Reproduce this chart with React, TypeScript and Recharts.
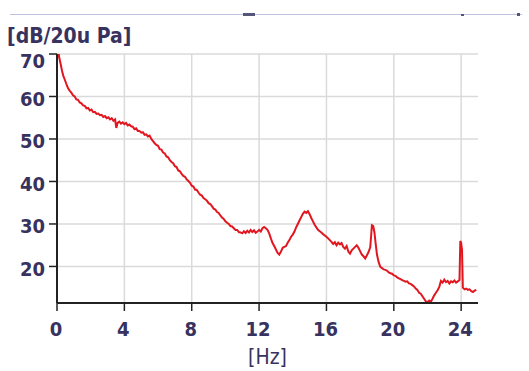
import React from 'react';
import { LineChart, Line, XAxis, YAxis, CartesianGrid } from 'recharts';

// Spectrum: frequency (Hz) and sound pressure level (dB re 20 µPa)
const freqHz: number[] = [
  0.0, 0.05, 0.1, 0.15, 0.22, 0.3, 0.38, 0.46, 0.55, 0.65, 0.75, 0.85, 0.95, 1.05, 1.15, 1.25, 1.35, 1.45,
  1.55, 1.65, 1.75, 1.85, 1.95, 2.05, 2.15, 2.25, 2.35, 2.45, 2.55, 2.65, 2.75, 2.85, 2.95, 3.05, 3.15, 3.25,
  3.35, 3.45, 3.52, 3.6, 3.7, 3.8, 3.9, 4.0, 4.1, 4.2, 4.3, 4.4, 4.5, 4.6, 4.7, 4.8, 4.9, 5.0,
  5.1, 5.2, 5.3, 5.4, 5.5, 5.6, 5.7, 5.8, 5.9, 6.0, 6.1, 6.2, 6.3, 6.4, 6.5, 6.6, 6.7, 6.8,
  6.9, 7.0, 7.1, 7.2, 7.3, 7.4, 7.5, 7.6, 7.7, 7.8, 7.9, 8.0, 8.1, 8.2, 8.3, 8.4, 8.5, 8.6,
  8.7, 8.8, 8.9, 9.0, 9.1, 9.2, 9.3, 9.4, 9.5, 9.6, 9.7, 9.8, 9.9, 10.0, 10.1, 10.2, 10.3, 10.4,
  10.5, 10.6, 10.7, 10.8, 10.9, 11.0, 11.1, 11.2, 11.3, 11.4, 11.5, 11.6, 11.7, 11.8, 11.9, 12.0, 12.1, 12.2,
  12.3, 12.4, 12.5, 12.6, 12.7, 12.8, 12.9, 13.0, 13.1, 13.2, 13.3, 13.4, 13.5, 13.6, 13.7, 13.8, 13.9, 14.0,
  14.1, 14.2, 14.3, 14.4, 14.5, 14.6, 14.7, 14.8, 14.9, 15.0, 15.1, 15.2, 15.3, 15.4, 15.5, 15.6, 15.7, 15.8,
  15.9, 16.0, 16.1, 16.2, 16.3, 16.4, 16.5, 16.6, 16.7, 16.8, 16.9, 17.0, 17.1, 17.2, 17.3, 17.4, 17.5, 17.6,
  17.7, 17.8, 17.9, 18.0, 18.1, 18.2, 18.3, 18.4, 18.5, 18.6, 18.65, 18.7, 18.78, 18.85, 18.92, 19.0, 19.1, 19.2,
  19.3, 19.4, 19.5, 19.6, 19.7, 19.8, 19.9, 20.0, 20.1, 20.2, 20.3, 20.4, 20.5, 20.6, 20.7, 20.8, 20.9, 21.0,
  21.1, 21.2, 21.3, 21.4, 21.5, 21.6, 21.7, 21.8, 21.9, 22.0, 22.1, 22.2, 22.3, 22.4, 22.5, 22.6, 22.7, 22.8,
  22.9, 23.0, 23.1, 23.2, 23.3, 23.4, 23.5, 23.6, 23.7, 23.8, 23.9, 23.95, 24.0, 24.05, 24.1, 24.2, 24.3, 24.4,
  24.5, 24.6, 24.7, 24.8, 24.9,
];

const levelDb: number[] = [
  70.0, 69.2, 70.0, 68.8, 67.6, 66.0, 64.8, 64.0, 63.0, 62.0, 61.4, 60.9, 60.3, 60.0, 59.3, 59.2, 58.6, 58.4,
  57.9, 57.8, 57.2, 57.3, 56.7, 56.9, 56.3, 56.4, 55.9, 56.0, 55.6, 55.7, 55.2, 55.4, 54.9, 55.1, 54.6, 54.9,
  54.3, 54.6, 52.6, 53.8, 54.1, 53.6, 53.9, 53.5, 53.8, 53.2, 53.4, 53.0, 52.9, 52.3, 52.5, 51.9, 51.9, 51.5,
  51.6, 51.0, 51.1, 50.6, 50.8, 50.0, 49.5, 49.0, 48.6, 48.4, 47.6, 47.5, 46.8, 46.6, 45.9, 45.7, 45.0, 44.6,
  44.3, 43.6, 43.4, 42.6, 42.4, 41.8, 41.3, 41.1, 40.5, 40.1, 39.7, 39.0, 38.8, 38.1, 38.0, 37.4, 36.9, 36.7,
  36.1, 35.8, 35.5, 34.9, 34.7, 34.2, 33.6, 33.4, 32.8, 32.6, 32.0, 31.5, 31.2, 30.6, 30.3, 30.0, 29.5, 29.4,
  29.0, 28.6, 28.6, 28.1, 28.0, 27.8, 28.3, 27.9, 28.4, 28.0, 28.6, 28.1, 28.5, 27.9, 28.2, 28.6, 28.2, 29.0,
  29.3, 29.0, 28.6, 27.8, 26.6, 25.5, 24.8, 24.0, 23.2, 22.8, 23.5, 24.4, 24.6, 24.8, 25.6, 26.2, 27.0, 27.5,
  28.2, 29.2, 30.0, 30.8, 31.6, 32.4, 32.9, 32.6, 33.0, 32.3, 31.4, 30.6, 29.8, 29.2, 28.6, 28.3, 28.0, 27.6,
  27.3, 27.0, 26.6, 26.2, 25.8, 25.3, 25.7, 25.0, 25.6, 25.2, 25.5, 24.6, 24.2, 24.8, 23.5, 23.0, 23.8, 24.2,
  24.6, 25.0, 24.4, 23.6, 22.8, 22.4, 21.9, 22.6, 23.4, 24.5, 27.0, 29.7, 29.5, 28.0, 25.5, 22.8, 21.0, 19.9,
  19.6, 19.3, 19.2, 19.0, 18.6, 18.4, 18.3, 17.9, 17.8, 17.4, 17.2, 17.0, 16.8, 16.6, 16.4, 16.5, 16.0, 15.9,
  15.6, 15.3, 14.8, 14.5, 13.8, 13.6, 13.0, 12.4, 11.8, 11.6, 12.0, 11.7, 12.4, 13.2, 13.8, 14.4, 15.2, 16.6,
  16.2, 16.9, 16.3, 16.6, 16.0, 16.5, 16.3, 16.7, 16.2, 16.5, 16.8, 26.0, 25.5, 24.0, 15.0, 14.6, 14.8, 14.5,
  14.6, 14.2, 14.0, 14.3, 14.5,
];

const xTicks: number[] = [0, 4, 8, 12, 16, 20, 24];
const yTicks: number[] = [20, 30, 40, 50, 60, 70];
const xTitle = '[Hz]';
const yTitle = '[dB/20u Pa]';

const data = freqHz.map((hz, i) => ({ hz, db: levelDb[i] }));

const FONT = '"DejaVu Sans Condensed", "DejaVu Sans", Verdana, sans-serif';
const TEXT_COLOR = '#38325f';

const YTick = (props: any) => {
  const { x, y, payload } = props;
  // the top label sits a little lower so it clears the axis title
  const shift = payload.value === 70 ? 7 : 2;
  return (
    <text x={x} y={y + shift} dy="0.36em" textAnchor="end" fill={TEXT_COLOR} fontSize={20} fontWeight="bold" fontFamily={FONT}>
      {payload.value}
    </text>
  );
};

const XTick = (props: any) => {
  const { x, y, payload } = props;
  return (
    <text x={x - 1} y={y} dy="0.74em" textAnchor="middle" fill={TEXT_COLOR} fontSize={20} fontWeight="bold" fontFamily={FONT}>
      {payload.value}
    </text>
  );
};

export default function App() {
  return (
    <div style={{ position: 'absolute', left: 0, top: 0, width: 529, height: 371, background: '#ffffff', overflow: 'hidden' }}>
      {/* window strip along the top edge */}
      <div style={{ position: 'absolute', left: 10, top: 14, width: 512, height: 1, background: '#bcc3da' }} />
      <div style={{ position: 'absolute', left: 243, top: 13, width: 12, height: 3, background: '#55557a' }} />
      <div style={{ position: 'absolute', left: 461, top: 14, width: 3, height: 2, background: '#55557a' }} />
      <div style={{ position: 'absolute', left: 517, top: 13, width: 3, height: 3, background: '#55557a' }} />
      <LineChart
        width={529}
        height={371}
        data={data}
        margin={{ top: 54, right: 51, bottom: 0, left: 0 }}
        style={{ position: 'absolute', left: 0, top: 0 }}
      >
        <CartesianGrid stroke="#dadada" strokeWidth={1.5} horizontalValues={yTicks} verticalValues={xTicks} />
        <XAxis
          type="number"
          dataKey="hz"
          domain={[0, 25]}
          ticks={xTicks}
          height={68}
          tickSize={8}
          tickMargin={10}
          tick={<XTick />}
          stroke="#222222"
          strokeWidth={2}
          tickLine={{ stroke: '#222222', strokeWidth: 1.5 }}
          label={{ value: xTitle, position: 'insideBottom', offset: 7, fill: TEXT_COLOR, fontSize: 21, fontFamily: FONT }}
        />
        <YAxis
          type="number"
          domain={[11.4, 70]}
          allowDataOverflow
          ticks={yTicks}
          width={57}
          tickSize={8}
          tickMargin={4}
          tick={<YTick />}
          stroke="#222222"
          strokeWidth={2}
          tickLine={{ stroke: '#222222', strokeWidth: 1.5 }}
          label={{
            content: () => (
              <text x={7} y={43} fill={TEXT_COLOR} fontSize={21} fontWeight="bold" fontFamily={FONT}>
                {yTitle}
              </text>
            ),
          }}
        />
        <Line
          type="linear"
          dataKey="db"
          stroke="#e2161f"
          strokeWidth={2}
          dot={false}
          isAnimationActive={false}
        />
      </LineChart>
    </div>
  );
}
